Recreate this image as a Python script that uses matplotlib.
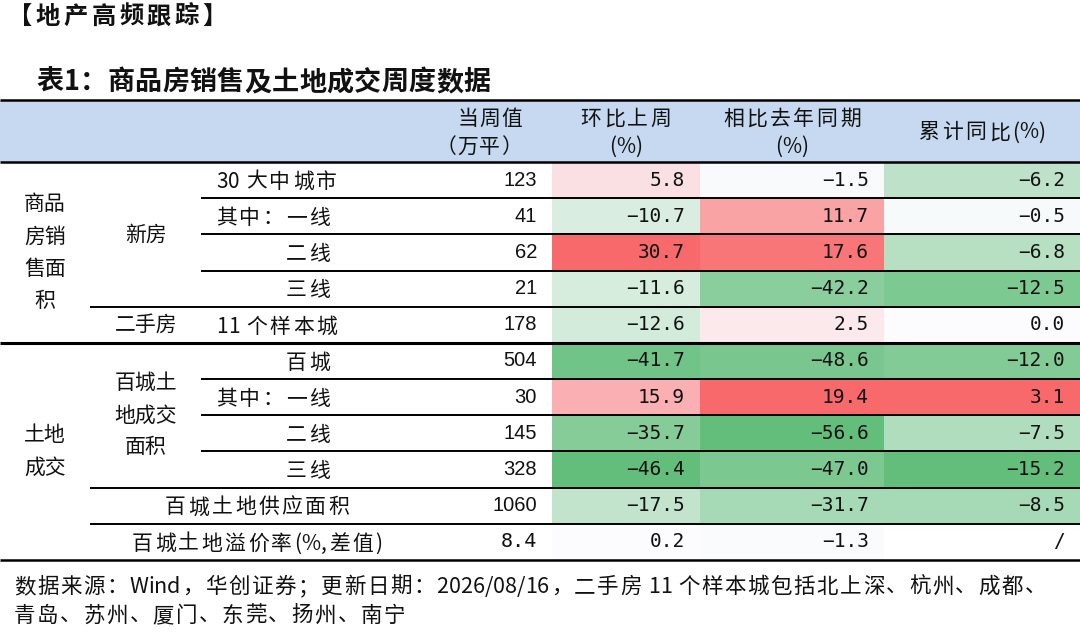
import numpy as np
import matplotlib
matplotlib.use('Agg')
import matplotlib.pyplot as plt
from matplotlib.colors import LinearSegmentedColormap, TwoSlopeNorm
from matplotlib.patches import Rectangle
from matplotlib.font_manager import FontProperties

CJK = ['Noto Sans CJK SC', 'DejaVu Sans']
MONO = ['DejaVu Sans Mono', 'Noto Sans CJK SC']
SANS = ['Liberation Sans', 'Noto Sans CJK SC']
plt.rcParams['font.family'] = CJK

# ---- data ----
page_title = '【地产高频跟踪】'
table_title = '表1：商品房销售及土地成交周度数据'
col_headers = ['当周值\n（万平）', '环比上周\n(%)', '相比去年同期\n(%)', '累计同比(%)']

group_labels = ['商品\n房销\n售面\n积', '土地\n成交']
sub_labels = ['新房', '二手房', '百城土\n地成交\n面积']
row_labels = ['30 大中城市', '其中：一线', '二线', '三线', '11 个样本城',
              '百城', '其中：一线', '二线', '三线',
              '百城土地供应面积', '百城土地溢价率(%,差值)']

current = [123, 41, 62, 21, 178, 504, 30, 145, 328, 1060, 8.4]
wow = [5.8, -10.7, 30.7, -11.6, -12.6, -41.7, 15.9, -35.7, -46.4, -17.5, 0.2]
yoy = [-1.5, 11.7, 17.6, -42.2, 2.5, -48.6, 19.4, -56.6, -47.0, -31.7, -1.3]
ytd = [-6.2, -0.5, -6.8, -12.5, 0.0, -12.0, 3.1, -7.5, -15.2, -8.5, np.nan]

source_lines = ['数据来源：Wind，华创证券；更新日期：2026/08/16，二手房 11 个样本城包括北上深、杭州、成都、',
                '青岛、苏州、厦门、东莞、扬州、南宁']

# ---- layout (pixels) ----
W, H = 1080, 632
head_top, head_bot, table_bot = 99.5, 162.0, 560.0
n_rows = len(row_labels)
row_h = (table_bot - head_bot) / n_rows
row_edges = head_bot + row_h * np.arange(n_rows + 1)
row_mid = (row_edges[:-1] + row_edges[1:]) / 2

heat_edges = [552, 700, 884, 1080]
heat_text_x = [685, 869, 1065]
value_x = 537
label_align = ['left', 'left', 'right', 'right', 'left', 'right', 'left', 'right', 'right',
               'center', 'center']
label_x = {'left': 216, 'right': 330, 'center': 257}
group_rows = [(0, 5), (5, 11)]
sub_rows = [(0, 4), (4, 5), (5, 9)]
lines_from_201 = [1, 2, 3, 6, 7, 8]
lines_from_90 = [4, 9, 10]

FS = 15
ink = '#111111'

fig = plt.figure(figsize=(W / 100, H / 100), dpi=100)
ax = fig.add_axes([0, 0, 1, 1])
ax.set_xlim(0, W)
ax.set_ylim(H, 0)
ax.axis('off')
renderer = fig.canvas.get_renderer()


def ink_width(s, prop):
    w, _, _ = renderer.get_text_width_height_descent(s, prop, ismath=False)
    return w


def spaced_text(x, y, s, ha='left', tracking=2.0, size=FS, weight='normal', family=CJK):
    # the source uses letter-spaced CJK text; add extra space around wide glyphs only
    prop = FontProperties(family=family, size=size, weight=weight)
    gaps = [0.0]
    for a, b in zip(s[:-1], s[1:]):
        extra = 0.0 if (a.isascii() and b.isascii()) else tracking
        gaps.append(gaps[-1] + extra)
    total = ink_width(s, prop) + gaps[-1]
    x0 = {'left': x, 'right': x - total, 'center': x - total / 2}[ha]
    base = y + 0.37 * size * 100 / 72
    for k, ch in enumerate(s):
        if ch == ' ':
            continue
        xr = x0 + ink_width(s[:k + 1], prop) + gaps[k]
        ax.text(xr, base, ch, ha='right', va='baseline', fontproperties=prop, color=ink)


spaced_text(8, 15, page_title, tracking=3.5, size=17.5, weight='bold')
spaced_text(36, 80, table_title, tracking=0.3, size=19.5, weight='bold')

# header band
ax.add_patch(Rectangle((0, head_top), W, head_bot - head_top, color='#c6d9f1', lw=0))
hdr_y = [117, 145]
for k, part in enumerate(col_headers[0].split('\n')):
    spaced_text(522, hdr_y[k], part, ha='right', tracking=1.0)
for j, hdr in enumerate(col_headers[1:]):
    cx = (heat_edges[j] + heat_edges[j + 1]) / 2
    parts = hdr.split('\n')
    ys = hdr_y if len(parts) == 2 else [(head_top + head_bot) / 2]
    for part, yy in zip(parts, ys):
        spaced_text(cx, yy, part, ha='center', tracking=2.5)

# heat-coloured cells, one colour scale per column
cmap = LinearSegmentedColormap.from_list('gwr', ['#63be7b', '#fcfcff', '#f8696b'])
for j, col in enumerate([wow, yoy, ytd]):
    vals = np.array(col, dtype=float)
    norm = TwoSlopeNorm(vmin=np.nanmin(vals), vcenter=0, vmax=np.nanmax(vals))
    ax.pcolormesh(heat_edges[j:j + 2], row_edges, np.ma.masked_invalid(vals).reshape(-1, 1),
                  cmap=cmap, norm=norm, shading='flat')
    for i, v in enumerate(vals):
        txt = '/' if np.isnan(v) else f'{v:.1f}'.replace('-', '−')
        ax.text(heat_text_x[j], row_mid[i], txt, ha='right', va='center',
                fontsize=14, family=MONO, color=ink)

# current values
for i, v in enumerate(current):
    txt = f'{v:g}'
    ax.text(value_x, row_mid[i], txt, ha='right', va='center', fontsize=14.5,
            family=MONO if '.' in txt else SANS, color=ink)

# row labels
for i, lab in enumerate(row_labels):
    a = label_align[i]
    spaced_text(label_x[a], row_mid[i], lab, ha=a, tracking=2.4)

for lab, (r0, r1) in zip(group_labels, group_rows):
    ax.text(45, (row_edges[r0] + row_edges[r1]) / 2, lab, ha='center', va='center',
            fontsize=FS, linespacing=1.6, color=ink)
for lab, (r0, r1) in zip(sub_labels, sub_rows):
    ax.text(146, (row_edges[r0] + row_edges[r1]) / 2, lab, ha='center', va='center',
            fontsize=FS, linespacing=1.6, color=ink)

# rules
ax.hlines([head_top, head_bot, table_bot], 0, W, color='black', lw=1.8)
ax.hlines(row_edges[5], 0, W, color='black', lw=2.2)
ax.hlines(row_edges[lines_from_201], 201, W, color='black', lw=1.4)
ax.hlines(row_edges[lines_from_90], 90, W, color='black', lw=1.4)

for k, line in enumerate(source_lines):
    spaced_text(14, 585 + 29 * k, line, tracking=1.6, size=15.5)

fig.savefig('out.png', dpi=100, facecolor='white')
